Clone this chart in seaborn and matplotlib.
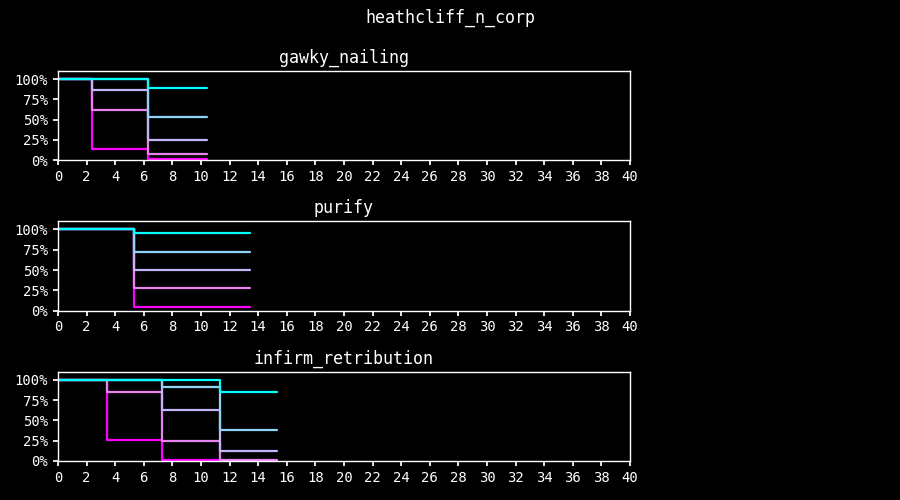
import matplotlib
matplotlib.use("Agg")
import matplotlib.pyplot as plt
import matplotlib.ticker as mticker
import numpy as np
import pandas as pd
import seaborn as sns

# ---- data ----
suptitle = "heathcliff_n_corp"
panel_titles = ["gawky_nailing", "purify", "infirm_retribution"]
series_names = ["s5", "s4", "s3", "s2", "s1"]  # draw order: magenta first, cyan last (on top)
series_colors = ["#FF00FF", "#E884F2", "#C6B4F8", "#8FD3F7", "#00FFFF"]

p1_times = [0, 2.4, 6.3, 10.4]
p1_s1 = [1.0, 1.0, 0.89, 0.89]
p1_s2 = [1.0, 1.0, 0.53, 0.53]
p1_s3 = [1.0, 0.87, 0.25, 0.25]
p1_s4 = [1.0, 0.62, 0.075, 0.075]
p1_s5 = [1.0, 0.135, 0.01, 0.01]

p2_times = [0, 5.3, 13.4]
p2_s1 = [1.0, 0.955, 0.955]
p2_s2 = [1.0, 0.72, 0.72]
p2_s3 = [1.0, 0.50, 0.50]
p2_s4 = [1.0, 0.28, 0.28]
p2_s5 = [1.0, 0.05, 0.05]

p3_times = [0, 3.4, 7.3, 11.3, 15.3]
p3_s1 = [1.0, 1.0, 1.0, 0.855, 0.855]
p3_s2 = [1.0, 1.0, 0.91, 0.38, 0.38]
p3_s3 = [1.0, 1.0, 0.63, 0.12, 0.12]
p3_s4 = [1.0, 0.85, 0.25, 0.01, 0.01]
p3_s5 = [1.0, 0.26, 0.015, 0.005, 0.005]

x_ticks = list(range(0, 41, 2))
y_ticks = [0, 0.25, 0.5, 0.75, 1.0]

panels = [
    (p1_times, {"s1": p1_s1, "s2": p1_s2, "s3": p1_s3, "s4": p1_s4, "s5": p1_s5}),
    (p2_times, {"s1": p2_s1, "s2": p2_s2, "s3": p2_s3, "s4": p2_s4, "s5": p2_s5}),
    (p3_times, {"s1": p3_s1, "s2": p3_s2, "s3": p3_s3, "s4": p3_s4, "s5": p3_s5}),
]

# ---- style ----
sns.set_theme(style="dark")
plt.rcParams.update({
    "figure.facecolor": "black",
    "axes.facecolor": "black",
    "savefig.facecolor": "black",
    "axes.edgecolor": "white",
    "axes.labelcolor": "white",
    "text.color": "white",
    "xtick.color": "white",
    "ytick.color": "white",
    "axes.grid": False,
    "xtick.bottom": True,
    "ytick.left": True,
    "xtick.major.size": 3.5,
    "ytick.major.size": 3.5,
    "axes.linewidth": 1.0,
})
plt.rcParams["font.family"] = ["DejaVu Sans Mono", "DejaVu Sans"]

fig, axes = plt.subplots(3, 1, figsize=(9, 5), dpi=100)
fig.subplots_adjust(left=0.0644, right=0.7, top=0.858, bottom=0.078, hspace=0.685)

palette = dict(zip(series_names, series_colors))

for ax, title, (times, vals) in zip(axes, panel_titles, panels):
    rows = []
    for name in series_names:
        for t, v in zip(times, vals[name]):
            rows.append({"time": t, "value": v, "series": name})
    df = pd.DataFrame(rows)
    sns.lineplot(data=df, x="time", y="value", hue="series", hue_order=series_names,
                 palette=palette, drawstyle="steps-post", linewidth=1.6,
                 legend=False, ax=ax, estimator=None, sort=False)
    ax.set_xlim(0, 40)
    ax.set_ylim(0, 1.1)
    ax.set_xticks(x_ticks)
    ax.set_yticks(y_ticks)
    ax.yaxis.set_major_formatter(mticker.PercentFormatter(1.0, decimals=0))
    ax.tick_params(axis="both", labelsize=10, colors="white", pad=3.5)
    ax.set_xlabel("")
    ax.set_ylabel("")
    ax.set_title(title, fontsize=12, color="white")
    for sp in ax.spines.values():
        sp.set_color("white")
        sp.set_visible(True)

fig.suptitle(suptitle, fontsize=12, color="white", y=0.982)
fig.savefig("out.png", dpi=100)
